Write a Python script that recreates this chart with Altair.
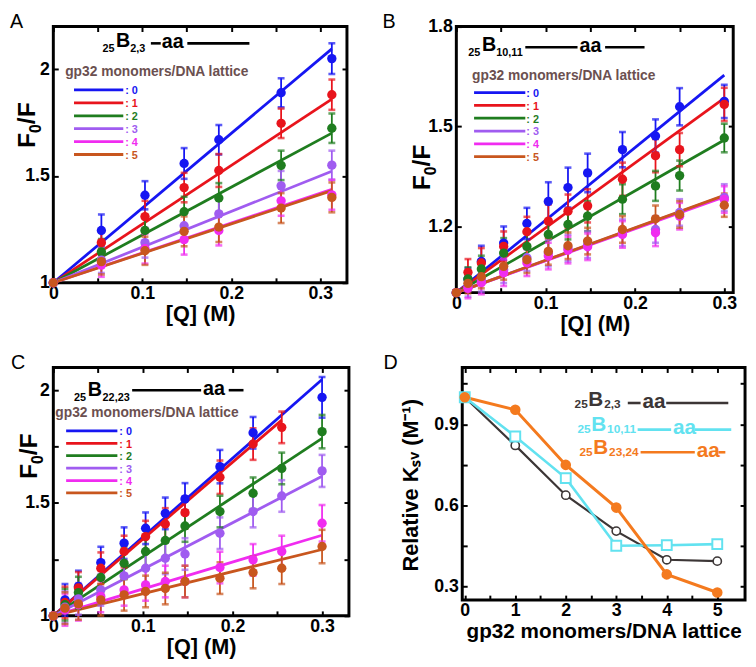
import json
import altair as alt
import pandas as pd

FONT = "Liberation Sans"
SERIES = ["0", "1", "2", "3", "4", "5"]
COLORS = ["#1616f2", "#e8141c", "#1f7d1f", "#a05cf0", "#f02cf0", "#c8561e"]
BROWN = "#6b5050"

# ---------------- Panel A : 25B2,3 ----------------
A_X = [0, 0.054, 0.103, 0.147, 0.186, 0.256, 0.313]
A_Y = [
    [1, 1.245, 1.41, 1.559, 1.67, 1.89, 2.05],
    [1, 1.188, 1.31, 1.446, 1.526, 1.747, 1.881],
    [1, 1.145, 1.245, 1.333, 1.397, 1.55, 1.724],
    [1, 1.106, 1.188, 1.267, 1.323, 1.454, 1.551],
    [1, 1.083, 1.16, 1.202, 1.245, 1.384, 1.412],
    [1, 1.099, 1.15, 1.241, 1.261, 1.35, 1.40],
]
A_ERR = [
    [0, 0.075, 0.066, 0.072, 0.069, 0.068, 0.072],
    [0, 0.06, 0.074, 0.069, 0.077, 0.069, 0.071],
    [0, 0.06, 0.07, 0.07, 0.07, 0.069, 0.069],
    [0, 0.06, 0.07, 0.07, 0.07, 0.07, 0.068],
    [0, 0.055, 0.07, 0.07, 0.07, 0.07, 0.07],
    [0, 0.06, 0.066, 0.07, 0.07, 0.07, 0.07],
]
A_KSV = [3.5, 2.75, 2.24, 1.67, 1.4, 1.38]
A_XEND = [0.313, 0.313, 0.313, 0.313, 0.313, 0.313]

# ---------------- Panel B : 25B10,11 ----------------
B_X = [0, 0.013, 0.028, 0.053, 0.079, 0.103, 0.125, 0.147, 0.186, 0.223, 0.25, 0.3]
B_Y = [
    [1, 1.041, 1.094, 1.149, 1.208, 1.274, 1.316, 1.36, 1.43, 1.471, 1.559, 1.575],
    [1, 1.061, 1.089, 1.139, 1.183, 1.215, 1.245, 1.261, 1.341, 1.412, 1.43, 1.566],
    [1, 1.041, 1.071, 1.119, 1.139, 1.175, 1.205, 1.23, 1.281, 1.321, 1.352, 1.465],
    [1, 1.018, 1.038, 1.069, 1.105, 1.119, 1.134, 1.144, 1.18, 1.19, 1.241, 1.286],
    [1, 1.013, 1.03, 1.06, 1.09, 1.11, 1.128, 1.138, 1.175, 1.18, 1.23, 1.28],
    [1, 1.028, 1.048, 1.079, 1.099, 1.124, 1.141, 1.155, 1.19, 1.222, 1.235, 1.263],
]
B_ERR = [
    [0, 0.033, 0.047, 0.05, 0.047, 0.058, 0.06, 0.058, 0.053, 0.05, 0.056, 0.05],
    [0, 0.04, 0.045, 0.045, 0.045, 0.05, 0.05, 0.05, 0.05, 0.05, 0.05, 0.05],
    [0, 0.035, 0.04, 0.045, 0.045, 0.045, 0.045, 0.045, 0.045, 0.045, 0.045, 0.043],
    [0, 0.03, 0.035, 0.04, 0.04, 0.04, 0.04, 0.04, 0.04, 0.04, 0.04, 0.04],
    [0, 0.03, 0.035, 0.04, 0.04, 0.04, 0.04, 0.04, 0.04, 0.04, 0.04, 0.04],
    [0, 0.03, 0.035, 0.04, 0.04, 0.04, 0.04, 0.04, 0.04, 0.04, 0.04, 0.035],
]
B_KSV = [2.18, 1.95, 1.53, 0.97, 0.96, 0.975]
B_XEND = [0.3, 0.3, 0.3, 0.3, 0.3, 0.3]

# ---------------- Panel C : 25B22,23 ----------------
C_X = [0, 0.013, 0.028, 0.053, 0.079, 0.103, 0.125, 0.147, 0.186, 0.223, 0.255, 0.3]
C_Y = [
    [1, 1.071, 1.13, 1.236, 1.322, 1.388, 1.454, 1.518, 1.661, 1.811, None, 1.968],
    [1, 1.059, 1.124, 1.211, 1.285, 1.351, 1.407, 1.457, 1.614, 1.761, 1.835, None],
    [1, 1.049, 1.103, 1.17, 1.233, 1.285, 1.334, 1.398, 1.462, 1.543, 1.653, 1.816],
    [1, 1.038, 1.075, 1.115, 1.177, 1.211, 1.255, 1.274, 1.366, 1.462, 1.531, 1.642],
    [1, 1.026, 1.049, 1.086, 1.115, 1.137, 1.152, 1.152, 1.214, 1.248, 1.285, 1.41],
    [1, 1.034, 1.053, 1.071, 1.093, 1.108, 1.121, 1.152, 1.167, 1.192, 1.211, 1.307],
]
C_ERR = [
    [0, 0.07, 0.07, 0.07, 0.07, 0.07, 0.07, 0.07, 0.074, 0.07, 0.07, 0.09],
    [0, 0.07, 0.07, 0.07, 0.07, 0.07, 0.07, 0.07, 0.074, 0.07, 0.07, 0.07],
    [0, 0.07, 0.07, 0.07, 0.07, 0.07, 0.07, 0.07, 0.07, 0.07, 0.07, 0.074],
    [0, 0.07, 0.07, 0.07, 0.07, 0.07, 0.07, 0.07, 0.07, 0.07, 0.07, 0.071],
    [0, 0.07, 0.07, 0.07, 0.07, 0.07, 0.07, 0.07, 0.07, 0.07, 0.07, 0.081],
    [0, 0.07, 0.07, 0.07, 0.07, 0.07, 0.07, 0.07, 0.07, 0.07, 0.07, 0.074],
]
C_KSV = [3.49, 3.4, 2.62, 2.06, 1.19, 0.98]
C_XEND = [0.3, 0.255, 0.3, 0.3, 0.3, 0.3]

# ---------------- Panel D : relative Ksv ----------------
D_X = [0, 1, 2, 3, 4, 5]
D_B23 = [1.0, 0.822, 0.638, 0.505, 0.399, 0.394]
D_B1011 = [1.0, 0.855, 0.701, 0.451, 0.453, 0.457]
D_B2324 = [1.0, 0.954, 0.75, 0.592, 0.345, 0.278]
D_BLACK, D_CYAN, D_ORANGE = "#3c3636", "#62e2f0", "#f47a1e"

Q_TICKS = [0, 0.05, 0.1, 0.15, 0.2, 0.25, 0.3]
Q_LABELS = [0, 0.1, 0.2, 0.3]


def lab_expr(labs):
    return f"indexof({json.dumps(labs)}, datum.value) >= 0 ? format(datum.value, '~g') : ''"


def x_axis(vals, labs, title, tsize=22, lpad=2, tpad=1):
    return alt.Axis(orient="bottom", values=vals, labelExpr=lab_expr(labs), title=title,
                    offset=-5, tickSize=5, tickWidth=2, tickColor="black", domain=False, grid=False,
                    labelFont=FONT, labelFontSize=18, labelFontWeight="bold", labelColor="black",
                    labelPadding=lpad, labelOverlap=False, labelFlush=False,
                    titleFont=FONT, titleFontSize=tsize, titleFontWeight="bold", titleColor="black",
                    titlePadding=tpad)


def y_axis(vals, labs, title=None, ext=20, ty=100, tsize=22):
    kw = dict(orient="left", values=vals, labelExpr=lab_expr(labs),
              offset=-5, tickSize=5, tickWidth=2, tickColor="black", domain=False, grid=False,
              labelFont=FONT, labelFontSize=18, labelFontWeight="bold", labelColor="black",
              labelPadding=4, labelOverlap=False, labelFlush=False)
    if title is None:
        return alt.Axis(title=None, **kw)
    return alt.Axis(title=title, minExtent=ext, maxExtent=ext, titlePadding=0, titleY=ty,
                    titleFont=FONT, titleFontSize=tsize, titleFontWeight="bold", titleColor="black", **kw)


def mirror_axis(orient, vals):
    return alt.Axis(orient=orient, values=vals, labels=False, title=None, offset=-5, tickSize=5,
                    tickWidth=2, tickColor="black", domain=False, grid=False)


def txt(text, x, y, size, color, weight="bold", angle=0):
    return alt.Chart(pd.DataFrame({"t": [text]})).mark_text(
        align="left", baseline="alphabetic", font=FONT, fontSize=size, fontWeight=weight, color=color,
        angle=angle
    ).encode(text="t:N", x=alt.value(x), y=alt.value(y))


def hline(x1, x2, y, color, width=2.6):
    return alt.Chart(pd.DataFrame({"t": [0]})).mark_rule(color=color, strokeWidth=width).encode(
        x=alt.value(x1), x2=alt.value(x2), y=alt.value(y))


def dna_label(sub1, big, sub2, parts, color, x, ybase, big_dy, sub_size=11, big_size=20):
    l1a, l1b, aax, l2a, l2b, ly, aay = parts
    return [
        txt(sub1, x[0], ybase, sub_size, color),
        txt(big, x[1], ybase - big_dy, big_size, color),
        txt(sub2, x[2], ybase, sub_size, color),
        hline(l1a, l1b, ly, color, 2.6),
        txt("aa", aax, aay, big_size, color),
        hline(l2a, l2b, ly, color, 2.6),
    ]


def legend_rows(x1, x2, y0, dy, tx):
    out = []
    for i, (s, c) in enumerate(zip(SERIES, COLORS)):
        y = y0 + i * dy
        out.append(hline(x1, x2, y, c, 2.8))
        out.append(txt(": " + s, tx, y + 4.5, 11, c))
    return out


def letter(ch, dx):
    return txt(ch, dx, 1, 20, "black", "normal")


def f0f_title(xb, yc, fs=25):
    sub = round(fs * 0.65)
    w_f = 0.611 * fs
    w_0 = 0.556 * sub
    y0 = yc + (2 * w_f + w_0 + 0.278 * fs) / 2
    return [
        txt("F", xb, y0, fs, "black", angle=270),
        txt("0", xb + 0.26 * fs, y0 - w_f, sub, "black", angle=270),
        txt("/F", xb, y0 - w_f - w_0, fs, "black", angle=270),
    ]


def frames(xs, ys, errs, ksv, xend):
    pts, fit = [], []
    for si, s in enumerate(SERIES):
        for x, y, e in zip(xs, ys[si], errs[si]):
            if y is None:
                continue
            pts.append({"s": s, "k": si, "x": x, "y": y, "lo": y - e, "hi": y + e})
        fit.append({"s": s, "x": 0.0, "y": 1.0})
        fit.append({"s": s, "x": xend[si], "y": 1.0 + ksv[si] * xend[si]})
    return pd.DataFrame(pts), pd.DataFrame(fit)


def quench_panel(xs, ys, errs, ksv, xend, xdom, ydom, yticks, ylabs, w, h, decor):
    pts, fit = frames(xs, ys, errs, ksv, xend)
    xsc = alt.Scale(domain=xdom, nice=False, zero=False)
    ysc = alt.Scale(domain=ydom, nice=False, zero=False)
    col = alt.Color("s:N", scale=alt.Scale(domain=SERIES, range=COLORS), legend=None)
    xn = alt.X("x:Q", scale=xsc, axis=None)
    base_pts = alt.Chart(pts)
    lines = alt.Chart(fit).mark_line(strokeWidth=2.8).encode(
        x=xn, y=alt.Y("y:Q", scale=ysc, axis=None), color=col, detail="s:N")
    bars = base_pts.mark_rule(strokeWidth=1.8).encode(
        x=xn, y=alt.Y("lo:Q", scale=ysc, axis=None), y2="hi:Q", color=col)
    cap_lo = base_pts.mark_tick(orient="horizontal", size=7, thickness=2.6).encode(
        x=xn, y=alt.Y("lo:Q", scale=ysc, axis=None), color=col)
    cap_hi = base_pts.mark_tick(orient="horizontal", size=7, thickness=2.6).encode(
        x=xn, y=alt.Y("hi:Q", scale=ysc, axis=None), color=col)
    dots = base_pts.mark_circle(size=90, opacity=1).encode(
        x=alt.X("x:Q", scale=xsc, axis=x_axis(Q_TICKS, Q_LABELS, "[Q] (M)")),
        y=alt.Y("y:Q", scale=ysc, axis=y_axis(yticks, ylabs)),
        color=col)
    mirror = base_pts.mark_point(opacity=0).encode(
        x=alt.X("x:Q", scale=xsc, axis=mirror_axis("top", Q_TICKS)),
        y=alt.Y("y:Q", scale=ysc, axis=mirror_axis("right", yticks)))
    return alt.layer(lines, bars, cap_lo, cap_hi, dots, mirror, *decor).resolve_axis(
        x="independent", y="independent").properties(width=w, height=h)


# ---- decorations
decA = (dna_label("25", "B", "2,3", (99, 109, 110, 136, 199, 17, 22), "black",
                  (50, 63.5, 78), 26, 5)
        + [txt("gp32 monomers/DNA lattice", 12, 50, 14, BROWN)]
        + legend_rows(21, 71, 64.3, 13.1, 73)
        + f0f_title(-19, 100)
        + [letter("A", -44)])
decB = (dna_label("25", "B", "10,11", (70, 123, 125, 151, 191, 21, 26), "black",
                  (12, 26, 40.5), 30, 5)
        + [txt("gp32 monomers/DNA lattice", 16, 54, 14, BROWN)]
        + legend_rows(18, 70, 67, 13, 71)
        + f0f_title(-27, 143)
        + [letter("B", -75)])
decC = (dna_label("25", "B", "22,23", (80, 150, 152, 178, 193, 23, 28), "black",
                  (21, 35, 50), 34, 5)
        + [txt("gp32 monomers/DNA lattice", 2, 50, 14, BROWN)]
        + legend_rows(13, 65, 64.3, 12.6, 67)
        + f0f_title(-17, 90)
        + [letter("C", -43)])

panelA = quench_panel(A_X, A_Y, A_ERR, A_KSV, A_XEND, [0, 0.33], [1, 2.2], [1, 1.5, 2], [1, 1.5, 2],
                      298, 260, decA)
panelB = quench_panel(B_X, B_Y, B_ERR, B_KSV, B_XEND, [0, 0.31], [1, 1.8], [1.2, 1.5, 1.8],
                      [1.2, 1.5, 1.8], 281, 270, decB)
panelC = quench_panel(C_X, C_Y, C_ERR, C_KSV, C_XEND, [0, 0.33], [1, 2.1], [1, 1.25, 1.5, 1.75, 2],
                      [1, 1.5, 2], 300, 252, decC)

# ---- Panel D
d_rows = []
for name, ys in (("b23", D_B23), ("b1011", D_B1011), ("b2324", D_B2324)):
    for x, y in zip(D_X, ys):
        d_rows.append({"s": name, "x": x, "y": y})
ddf = pd.DataFrame(d_rows)
dxs = alt.Scale(domain=[-0.05, 5.55], nice=False, zero=False)
dys = alt.Scale(domain=[0.25, 1.11], nice=False, zero=False)
D_XT = [0, 0.5, 1, 1.5, 2, 2.5, 3, 3.5, 4, 4.5, 5]
D_YT = [0.3, 0.45, 0.6, 0.75, 0.9, 1.05]


def dsel(name):
    return alt.Chart(ddf).transform_filter(alt.datum.s == name)


dxn = alt.X("x:Q", scale=dxs, axis=None)
dyn = alt.Y("y:Q", scale=dys, axis=None)
d_layers = [
    dsel("b23").mark_line(color=D_BLACK, strokeWidth=2.2).encode(x=dxn, y=dyn),
    dsel("b1011").mark_line(color=D_CYAN, strokeWidth=2.6).encode(x=dxn, y=dyn),
    dsel("b2324").mark_line(color=D_ORANGE, strokeWidth=3).encode(x=dxn, y=dyn),
    dsel("b23").mark_point(shape="circle", filled=True, fill="white", stroke=D_BLACK, strokeWidth=1.6,
                           size=70, opacity=1).encode(x=dxn, y=dyn),
    dsel("b1011").mark_point(shape="square", filled=True, fill="white", stroke=D_CYAN, strokeWidth=2,
                             size=100, opacity=1).encode(x=dxn, y=dyn),
    dsel("b2324").mark_circle(color=D_ORANGE, size=115, opacity=1).encode(
        x=alt.X("x:Q", scale=dxs, axis=x_axis(D_XT, [0, 1, 2, 3, 4, 5], "gp32 monomers/DNA lattice", tsize=21)),
        y=alt.Y("y:Q", scale=dys, axis=y_axis(D_YT, [0.3, 0.6, 0.9], "Relative Kₛᵥ (M⁻¹)", 45, 119))),
    alt.Chart(ddf).mark_point(opacity=0).encode(
        x=alt.X("x:Q", scale=dxs, axis=mirror_axis("top", D_XT)),
        y=alt.Y("y:Q", scale=dys, axis=mirror_axis("right", D_YT))),
]
decD = (dna_label("25", "B", "2,3", (168, 181, 183, 207, 270, 36, 41), D_BLACK, (114, 128, 144), 41, 2,
                  sub_size=12, big_size=21)
        + dna_label("25", "B", "10,11", (178, 212, 214, 236, 273, 63, 67), D_CYAN, (117, 131, 147), 66, 2,
                    sub_size=12, big_size=21)
        + dna_label("25", "B", "23,24", (181, 236, 238, 260, 267, 86, 91), D_ORANGE, (119, 133, 149), 90, 2,
                    sub_size=12, big_size=21)
        + [letter("D", -80)])
panelD = alt.layer(*d_layers, *decD).resolve_axis(x="independent", y="independent").properties(
    width=287, height=236)

row1 = alt.hconcat(panelA, panelB, spacing=31)
row2 = alt.hconcat(panelC, panelD, spacing=30)
chart = alt.vconcat(row1, row2, spacing=15).properties(
    padding={"top": -3, "left": 0, "right": 0, "bottom": 0}, background="white").configure_view(
    stroke="black", strokeWidth=3)

chart.save("out.html", embed_options={"renderer": "svg", "actions": False})
